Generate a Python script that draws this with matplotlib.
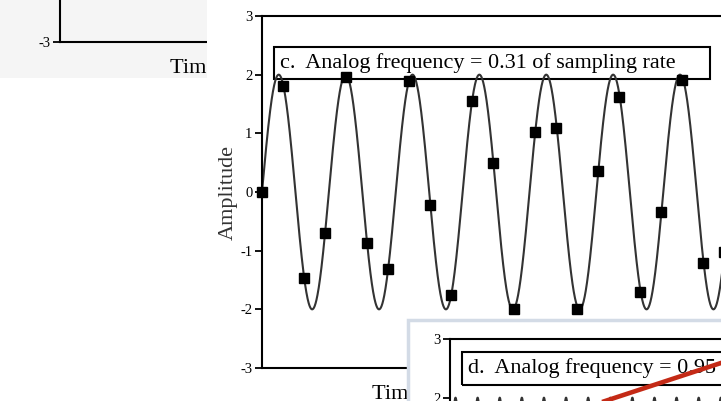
"""
Proper and improper sampling: panel c (0.31 of sampling rate) with the
neighbouring panel fragments as they appear in the screenshot.
"""

import numpy as np
import matplotlib.pyplot as plt
from matplotlib.patches import Rectangle

W, H = 721, 401

# ---- data ----
amplitude = 2.0
freq_c = 0.314          # cycles per sample of the drawn analog curve (c)
freq_d = 0.95           # cycles per sample of the drawn analog curve (d)
samples_c = [0.0, 1.81, -1.47, -0.70, 1.96, -0.87, -1.31, 1.89, -0.22, -1.75,
             1.55, 0.49, -2.0, 1.02, 1.09, -2.0, 0.36, 1.62, -1.71, -0.34,
             1.91, -1.21, -1.02]
y_ticks = [-3, -2, -1, 0, 1, 2, 3]
label_c = 'c.  Analog frequency = 0.31 of sampling rate'
label_d = 'd.  Analog frequency = 0.95 of sampling rate'
x_label = 'Time (or sample number)'
y_label = 'Amplitude'
red_x = [6, 14]
red_y = [1.78, 2.72]

plt.rcParams['font.family'] = ['Liberation Serif', 'DejaVu Serif']
plt.rcParams['axes.unicode_minus'] = False


def fx(px):
    return px / W


def fy(py):
    return 1 - py / H


def style_axes(ax):
    ax.spines['right'].set_visible(False)
    for side in ['left', 'bottom', 'top']:
        ax.spines[side].set_linewidth(1.5)
    ax.set_xlim(0, 30)
    ax.set_ylim(-3, 3)
    ax.set_yticks(y_ticks)
    ax.set_xticks([])
    ax.tick_params(axis='y', direction='out', length=5, width=1.3, pad=2,
                   labelsize=10.5)
    ax.set_xlabel(x_label, fontsize=16)
    ax.xaxis.label.set_ha('left')
    ax.xaxis.set_label_coords(110 / 630, -0.045)


fig = plt.figure(figsize=(W / 100, H / 100), dpi=100)

# left fragment (panel above/left), partly covered
fig.add_artist(Rectangle((0, fy(78)), fx(207), 78 / H, transform=fig.transFigure,
                         facecolor='#f5f5f5', edgecolor='none', zorder=0.5))
ax_a = fig.add_axes([fx(60), fy(42), fx(630), 352 / H], zorder=1)
ax_a.patch.set_alpha(0)
style_axes(ax_a)

# panel c
fig.add_artist(Rectangle((fx(207), 0), 1, 1, transform=fig.transFigure,
                         facecolor='white', edgecolor='none', zorder=1.5))
ax_c = fig.add_axes([fx(262), fy(368), fx(630), 352 / H], zorder=2)
style_axes(ax_c)
ax_c.set_ylabel(y_label, fontsize=16, color='#333333', labelpad=2)

t = np.linspace(0, 30, 3000)
ax_c.plot(t, amplitude * np.sin(2 * np.pi * freq_c * t), color='#333333', lw=1.5)
n = np.arange(len(samples_c))
ax_c.plot(n, samples_c, 's', color='black', markersize=7.5, clip_on=False)
ax_c.add_patch(Rectangle((12 / 630, 1 - 63 / 352), 436 / 630, 32 / 352,
                         transform=ax_c.transAxes, fill=False, lw=1.5,
                         edgecolor='black'))
ax_c.text(18 / 630, 1 - 47 / 352, label_c, transform=ax_c.transAxes,
          fontsize=15.9, va='center', ha='left')

# panel d fragment
fig.add_artist(Rectangle((fx(408), fy(900)), 1, 580 / H, transform=fig.transFigure,
                         facecolor='white', edgecolor='#d3dbe6', lw=2.5, zorder=2.5))
ax_d = fig.add_axes([fx(450), fy(339 + 352), fx(630), 352 / H], zorder=3)
style_axes(ax_d)
ax_d.plot(t, amplitude * np.sin(2 * np.pi * freq_d * t), color='#333333', lw=1.5)
ax_d.add_patch(Rectangle((12 / 630, 1 - 46 / 352), 436 / 630, 33 / 352,
                         transform=ax_d.transAxes, fill=False, lw=1.5,
                         edgecolor='black'))
ax_d.text(18 / 630, 1 - 29.5 / 352, label_d, transform=ax_d.transAxes,
          fontsize=15.9, va='center', ha='left')
ax_d.plot(red_x, red_y, color='#c42a16', lw=3.3, solid_capstyle='butt', zorder=5)

fig.savefig('out.png', dpi=100)
